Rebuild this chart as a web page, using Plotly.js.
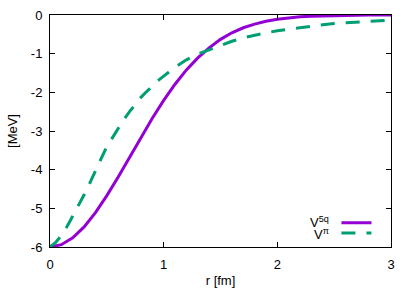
<!DOCTYPE html>
<html>
<head>
<meta charset="utf-8">
<script src="https://cdn.plot.ly/plotly-3.0.1.min.js"></script>
<style>html,body{margin:0;padding:0;background:#fff;}#chart{width:415px;height:290px;}</style>
</head>
<body>
<div id="chart"></div>
<script>
// r [fm]
const r5q = [0,0.1,0.2,0.3,0.4,0.5,0.6,0.7,0.8,0.9,1.0,1.1,1.2,1.3,1.4,1.5,1.6,1.7,1.8,1.9,2.0,2.1,2.2,2.3,2.4,2.5,2.6,2.7,2.8,2.9,3.0];
const v5q = [-6.00,-5.94,-5.76,-5.48,-5.11,-4.67,-4.19,-3.67,-3.16,-2.67,-2.21,-1.79,-1.42,-1.11,-0.85,-0.63,-0.46,-0.33,-0.235,-0.16,-0.11,-0.072,-0.047,-0.030,-0.019,-0.011,-0.007,-0.004,-0.002,-0.001,-0.0007];
const rPi = [0,0.05,0.1,0.15,0.2,0.25,0.3,0.35,0.4,0.45,0.5,0.55,0.6,0.65,0.7,0.75,0.8,0.85,0.9,0.95,1.0,1.1,1.2,1.3,1.4,1.5,1.6,1.7,1.8,1.9,2.0,2.1,2.2,2.3,2.4,2.5,2.6,2.7,2.8,2.9,3.0];
const vPi = [-6.00,-5.88,-5.70,-5.47,-5.20,-4.93,-4.65,-4.35,-4.03,-3.70,-3.40,-3.17,-2.92,-2.70,-2.50,-2.31,-2.13,-1.98,-1.83,-1.70,-1.58,-1.35,-1.16,-1.01,-0.90,-0.78,-0.68,-0.59,-0.52,-0.46,-0.41,-0.37,-0.32,-0.28,-0.25,-0.22,-0.20,-0.18,-0.16,-0.145,-0.13];
const seriesNames = ['V<sup>5q</sup>', 'V<sup>π</sup>'];
const xTicks = [0,1,2,3];
const yTicks = [0,-1,-2,-3,-4,-5,-6];

const font = {family: 'Liberation Sans, Arial, sans-serif', size: 13, color: '#000'};
const data = [
  {x: r5q, y: v5q, mode: 'lines', name: ' ', line: {color: '#9400d3', width: 3}, legend: 'legend', showlegend: true},
  {x: rPi, y: vPi, mode: 'lines', name: ' ', line: {color: '#009e73', width: 3, dash: '14px,11px'}, legend: 'legend2', showlegend: true}
];
const axisCommon = {
  showgrid: false, zeroline: false, showline: true, linecolor: '#000', linewidth: 1,
  ticks: 'inside', ticklen: 5, tickcolor: '#000', mirror: 'allticks', tickfont: font
};
const layout = {
  width: 415, height: 290,
  margin: {l: 50, r: 24, t: 15, b: 43},
  paper_bgcolor: '#fff', plot_bgcolor: '#fff',
  font: font,
  xaxis: Object.assign({}, axisCommon, {range: [0, 3], tickvals: xTicks, ticktext: xTicks.map(String), ticklabelstandoff: 5,
    title: {text: 'r [fm]', font: font, standoff: 5}}),
  yaxis: Object.assign({}, axisCommon, {range: [-6, 0], tickvals: yTicks, ticktext: yTicks.map(String), ticklabelstandoff: 4,
    title: {text: '[MeV]', font: font, standoff: 10}}),
  legend: {x: 0.84, y: 0.105, xanchor: 'left', yanchor: 'middle', bgcolor: 'rgba(0,0,0,0)', itemwidth: 30, font: {size: 10}},
  legend2: {x: 0.84, y: 0.06, xanchor: 'left', yanchor: 'middle', bgcolor: 'rgba(0,0,0,0)', itemwidth: 30, font: {size: 10}},
  annotations: [
    {xref: 'paper', yref: 'paper', x: 0.825, y: 0.108, xanchor: 'right', yanchor: 'middle', text: seriesNames[0], showarrow: false, font: font},
    {xref: 'paper', yref: 'paper', x: 0.825, y: 0.054, xanchor: 'right', yanchor: 'middle', text: seriesNames[1], showarrow: false, font: font}
  ]
};
Plotly.newPlot('chart', data, layout, {displayModeBar: false, staticPlot: true});
</script>
</body>
</html>
